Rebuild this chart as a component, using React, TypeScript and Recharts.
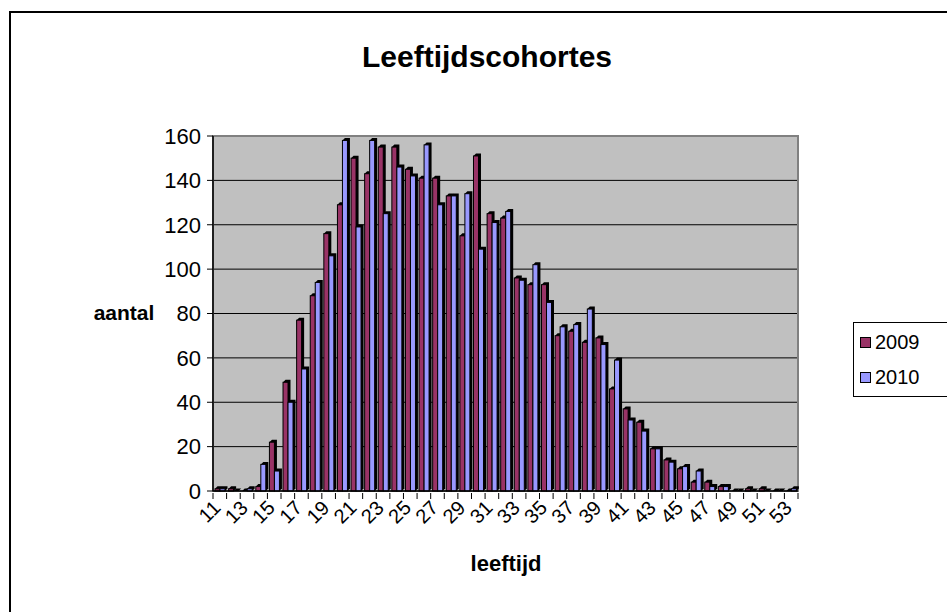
import React from 'react';
import { BarChart, Bar, XAxis, YAxis, CartesianGrid, ReferenceArea } from 'recharts';

const ages = ['11','12','13','14','15','16','17','18','19','20','21','22','23','24','25','26','27','28','29','30','31','32','33','34','35','36','37','38','39','40','41','42','43','44','45','46','47','48','49','50','51','52','53'];
const v2009 = [1,1,0,2,22,49,77,88,116,129,150,143,155,155,145,141,141,133,115,151,125,123,96,93,93,70,72,67,69,46,37,31,19,14,10,4,4,2,0,1,1,0,0];
const v2010 = [1,0,1,12,9,40,55,94,106,158,119,158,125,146,142,156,129,133,134,109,121,126,95,102,85,74,75,82,66,59,32,27,19,13,11,9,2,2,0,0,0,0,1];
const yTicks = [0,20,40,60,80,100,120,140,160];
const gridTicks = [20,40,60,80,100,120,140];
const seriesNames = ['2009','2010'];
const colors = ['#993366','#9999FF'];

const data = ages.map((a, i) => ({ age: a, y2009: v2009[i], y2010: v2010[i] }));

const FONT = '"Liberation Sans", Arial, sans-serif';

const Bar3D = (props: any) => {
  const { x, y, width, height, fill } = props;
  if (x == null || y == null) return null;
  const d = 2.5;
  const h = Math.max(0, height);
  return (
    <g>
      <polygon
        points={`${x},${y} ${x + d},${y - d} ${x + width + d},${y - d} ${x + width + d},${y + h - d} ${x + width},${y + h}`}
        fill="#000"
      />
      <rect x={x} y={y} width={width} height={h} fill={fill} stroke="#000" strokeWidth={1} />
    </g>
  );
};

const XTick = (props: any) => {
  const { x, y, payload, index, visibleTicksCount } = props;
  const half = payload && payload.offset ? payload.offset : 6.8;
  const tx = x + 2;
  const ty = y + 16;
  return (
    <g>
      <line x1={x - half} x2={x - half} y1={y} y2={y + 6} stroke="#000" strokeWidth={1} />
      {index === visibleTicksCount - 1 && (
        <line x1={x + half} x2={x + half} y1={y} y2={y + 6} stroke="#000" strokeWidth={1} />
      )}
      {index % 2 === 0 && (
        <text x={tx} y={ty} transform={`rotate(-45 ${tx} ${ty})`} textAnchor="end" fontSize={20} fontFamily={FONT} fill="#000">
          {payload.value}
        </text>
      )}
    </g>
  );
};

const LegendBox = () => (
  <div style={{ position: 'absolute', left: 853, top: 322, border: '1px solid #000', background: '#fff', width: 110, height: 75, boxSizing: 'border-box', fontFamily: FONT, fontSize: 20 }}>
    {seriesNames.map((n, i) => (
      <div key={n} style={{ position: 'absolute', left: 6, top: 8 + i * 35, display: 'flex', alignItems: 'center' }}>
        <span style={{ display: 'inline-block', width: 9, height: 9, background: colors[i], border: '1px solid #000', marginRight: 4 }} />
        <span style={{ lineHeight: '22px' }}>{n}</span>
      </div>
    ))}
  </div>
);

export default function App() {
  return (
    <div style={{ position: 'absolute', left: 0, top: 0, width: 947, height: 612, overflow: 'hidden', background: '#fff' }}>
      <div style={{ position: 'absolute', left: 9, top: 11, width: 1100, height: 800, border: '2px solid #000' }} />
      <div style={{ position: 'absolute', left: 0, top: 0 }}>
        <BarChart
          width={947}
          height={612}
          data={data}
          margin={{ top: 136, right: 149, bottom: 61, left: 153 }}
          barGap={0}
          barCategoryGap={3}
        >
          <CartesianGrid fill="#C0C0C0" stroke="#000" strokeWidth={1} vertical={false} horizontalValues={gridTicks} />
          <ReferenceArea y1={0} y2={160} fill="none" stroke="#808080" strokeWidth={2} ifOverflow="visible" />
          <XAxis
            dataKey="age"
            interval={0}
            tickSize={0}
            tickLine={false}
            height={60}
            axisLine={{ stroke: '#000', strokeWidth: 1.5 }}
            tick={<XTick />}
          />
          <YAxis
            width={60}
            domain={[0, 160]}
            ticks={yTicks}
            interval={0}
            tickSize={6}
            tickMargin={6}
            axisLine={{ stroke: '#000', strokeWidth: 1.5 }}
            tickLine={{ stroke: '#000' }}
            tick={{ fill: '#000', fontSize: 22, fontFamily: FONT }}
          />
          <Bar dataKey="y2009" name="2009" fill={colors[0]} barSize={5} isAnimationActive={false} shape={<Bar3D />} />
          <Bar dataKey="y2010" name="2010" fill={colors[1]} barSize={5} isAnimationActive={false} shape={<Bar3D />} />
        </BarChart>
      </div>
      <LegendBox />
      <svg width={947} height={612} style={{ position: 'absolute', left: 0, top: 0, pointerEvents: 'none' }}>
        <text x={487} y={67} textAnchor="middle" fontFamily={FONT} fontWeight="bold" fontSize={30} fill="#000">Leeftijdscohortes</text>
        <text x={124} y={320} textAnchor="middle" fontFamily={FONT} fontWeight="bold" fontSize={21} fill="#000">aantal</text>
        <text x={506} y={571} textAnchor="middle" fontFamily={FONT} fontWeight="bold" fontSize={22} fill="#000">leeftijd</text>
      </svg>
    </div>
  );
}
